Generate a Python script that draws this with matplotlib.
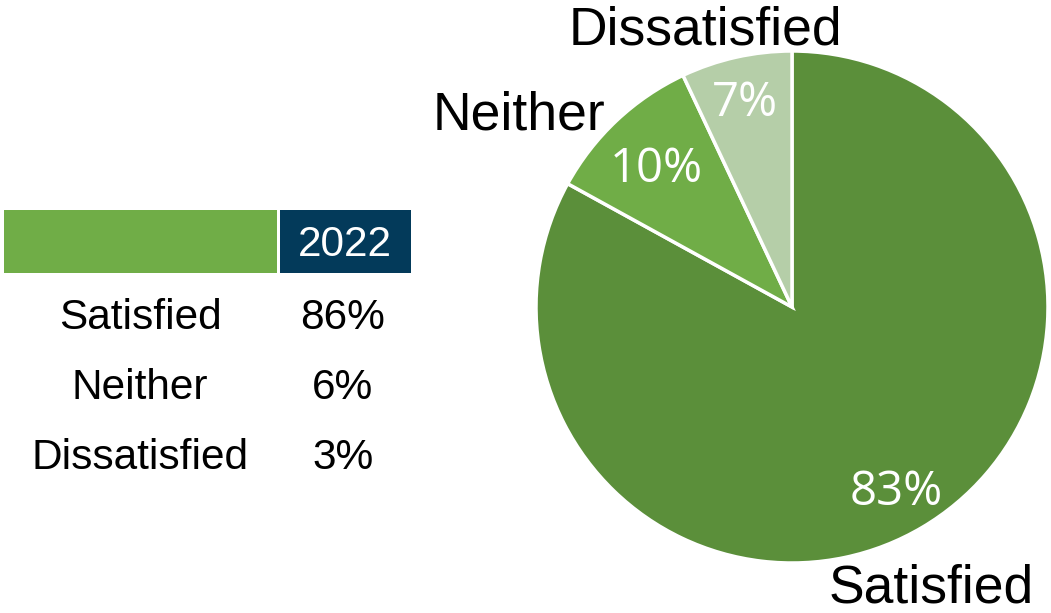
import matplotlib
matplotlib.use("Agg")
import matplotlib.pyplot as plt
from matplotlib.patches import Rectangle

# Pie data (current survey)
pie_labels = ["Satisfied", "Neither", "Dissatisfied"]
pie_values = [83, 10, 7]
pie_colors = ["#5b8f3a", "#70ad47", "#b5cea8"]

# Comparison table (prior year)
table_year = "2022"
table_labels = ["Satisfied", "Neither", "Dissatisfied"]
table_values = [86, 6, 3]

W, H = 1051, 613
fig = plt.figure(figsize=(W / 100, H / 100), dpi=100)

# Full-figure pixel axes for the table
tax = fig.add_axes([0, 0, 1, 1])
tax.set_xlim(0, W)
tax.set_ylim(H, 0)
tax.axis("off")

tax.add_patch(Rectangle((4, 210), 273, 63, facecolor="#70ad47", edgecolor="none"))
tax.add_patch(Rectangle((280, 210), 131, 63, facecolor="#033a5a", edgecolor="none"))
tax.text(345, 245, table_year, color="white", fontsize=30.5, family="Liberation Sans",
         ha="center", va="center")

row_y = [318, 388, 458]
for y, lab, val in zip(row_y, table_labels, table_values):
    tax.text(140, y, lab, fontsize=30.5, family="Liberation Sans", ha="center", va="center")
    tax.text(343, y, f"{val}%", fontsize=30.5, family="Liberation Sans", ha="center", va="center")

# Pie axes: centre (792, 307), radius 256 px
cx, cy, r = 792, 307, 256
pax = fig.add_axes([(cx - r) / W, (H - cy - r) / H, 2 * r / W, 2 * r / H])
wedges, _, autotexts = pax.pie(
    pie_values, colors=pie_colors, startangle=90, counterclock=False,
    autopct=lambda p: f"{p:.0f}%", pctdistance=0.8,
    wedgeprops=dict(edgecolor="white", linewidth=2.5),
    textprops=dict(color="white", fontsize=34, family="Open Sans"),
)
pax.set_xlim(-1, 1)
pax.set_ylim(-1, 1)
pax.axis("off")

# Fine placement of the percentage labels inside the wedges
pct_pos = [(0.408, -0.725), (-0.53, 0.54), (-0.184, 0.795)]
for t, (x, y) in zip(autotexts, pct_pos):
    t.set_position((x, y))

label_pos = {
    "Satisfied": (0.545, -1.10),
    "Neither": (-1.067, 0.75),
    "Dissatisfied": (-0.338, 1.08),
}
for lab in pie_labels:
    x, y = label_pos[lab]
    pax.text(x, y, lab, fontsize=38.5, family="Liberation Sans", ha="center",
             va="center", clip_on=False)

fig.savefig("out.png", dpi=100)
